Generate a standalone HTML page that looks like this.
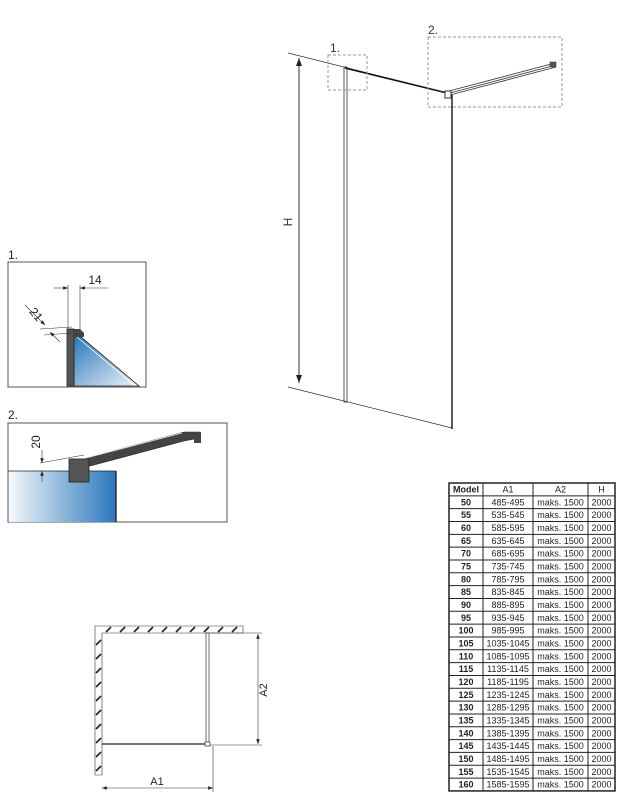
<!DOCTYPE html>
<html><head><meta charset="utf-8"><style>
body{margin:0;background:#fff;width:638px;height:800px;overflow:hidden;font-family:"Liberation Sans",sans-serif}
svg{position:absolute;left:0;top:0}
.t{font-family:"Liberation Sans",sans-serif;font-size:9px;fill:#222;text-anchor:middle}
.b{font-weight:bold}
</style></head><body>
<svg width="638" height="800" viewBox="0 0 638 800">
<defs>
<linearGradient id="g" x1="0" x2="1"><stop offset="0" stop-color="#f4f8fc"/><stop offset="1" stop-color="#2a78bb"/></linearGradient>
<linearGradient id="g1" x1="0" x2="1" y1="0" y2="1"><stop offset="0" stop-color="#2a78bb"/><stop offset="1" stop-color="#eef4fa"/></linearGradient>
<marker id="a" markerWidth="8" markerHeight="6" refX="8" refY="3" orient="auto"><path d="M0,0 L8,3 L0,6z" fill="#222"/></marker>
<marker id="as" markerWidth="8" markerHeight="6" refX="0" refY="3" orient="auto"><path d="M8,0 L0,3 L8,6z" fill="#222"/></marker>
</defs>
<g stroke="#333" fill="none">
<line x1="288" y1="53" x2="447" y2="93" stroke-width="0.8"/>
<line x1="345" y1="68" x2="447" y2="93" stroke-width="1.5" stroke="#111"/>
<line x1="288" y1="387" x2="452" y2="428" stroke-width="0.8"/>
<line x1="299" y1="58" x2="299" y2="383" stroke-width="1" marker-start="url(#as)" marker-end="url(#a)"/>
<rect x="344" y="67" width="3" height="335" stroke-width="0.8"/>
<line x1="452" y1="95" x2="452" y2="429" stroke-width="1.5" stroke="#222"/>
<path d="M449,91 L555,63 M450,95 L556,67 M450,93 L556,65" stroke-width="0.8"/>
<rect x="445" y="91" width="6" height="7" fill="#fff" stroke-width="1"/>
<rect x="550" y="62" width="6" height="5" fill="#555" stroke-width="0.5"/>
<rect x="328" y="55" width="39" height="35" stroke="#999" stroke-dasharray="3,2" stroke-width="1"/>
<rect x="428" y="37" width="134" height="70" stroke="#999" stroke-dasharray="3,2" stroke-width="1"/>
</g>
<text x="330" y="52" style="font-size:12px;fill:#333">1.</text>
<text x="428" y="34" style="font-size:12px;fill:#333">2.</text>
<text transform="translate(292,222) rotate(-90)" style="font-size:12px;fill:#333" text-anchor="middle">H</text>
<text x="8" y="259" style="font-size:12px;fill:#222">1.</text>
<rect x="8" y="262" width="138" height="125" fill="#fff" stroke="#555" stroke-width="1"/>
<polygon points="74,337 81,337 139,386 74,386" fill="url(#g1)" stroke="#222" stroke-width="0.8"/>
<line x1="77" y1="337" x2="135" y2="386" stroke="#fff" stroke-width="0.8"/>
<rect x="67" y="329" width="7" height="57" fill="#555" stroke="#222" stroke-width="0.8"/>
<polygon points="74,329 80,329 84,333 84,337 74,337" fill="#444"/>
<g stroke="#333" stroke-width="0.6" fill="none">
<line x1="68" y1="285" x2="68" y2="330"/><line x1="80" y1="285" x2="80" y2="330"/>
<line x1="54" y1="288" x2="68" y2="288" marker-end="url(#a)"/><line x1="108" y1="288" x2="80" y2="288" marker-end="url(#a)"/>
<line x1="25" y1="305" x2="45" y2="325" marker-end="url(#a)"/><line x1="60" y1="342" x2="50" y2="332" marker-end="url(#a)"/>
<line x1="40" y1="329" x2="72" y2="327"/><line x1="44" y1="335" x2="72" y2="333"/>
</g>
<text x="95" y="284" style="font-size:12px;fill:#222" text-anchor="middle">14</text>
<text transform="translate(33,317) rotate(50)" style="font-size:12px;fill:#222" text-anchor="middle">21</text>
<text x="8" y="419" style="font-size:12px;fill:#222">2.</text>
<rect x="8" y="423" width="219" height="99" fill="#fff" stroke="#555" stroke-width="1"/>
<rect x="9" y="471" width="107" height="51" fill="url(#g)"/>
<line x1="116" y1="471" x2="116" y2="522" stroke="#111" stroke-width="1.2"/>
<line x1="8" y1="471" x2="116" y2="471" stroke="#222" stroke-width="0.8"/>
<polygon points="86,458 184,432 200,432 200,438 184,441 90,466" fill="#444" stroke="#222" stroke-width="0.6"/>
<line x1="86" y1="458" x2="182" y2="433" stroke="#eee" stroke-width="0.8"/>
<rect x="194" y="432" width="7" height="11" fill="#444"/>
<rect x="69" y="459" width="20" height="23" fill="#555" stroke="#222" stroke-width="0.8"/>
<g stroke="#333" stroke-width="0.6">
<line x1="42" y1="450" x2="42" y2="463" marker-end="url(#a)"/>
<line x1="42" y1="482" x2="42" y2="471" marker-end="url(#a)"/>
<line x1="40" y1="463" x2="84" y2="455"/>
</g>
<text transform="translate(40,442) rotate(-90)" style="font-size:12px;fill:#222" text-anchor="middle">20</text>
<g stroke="#333" fill="none">
<path d="M95,775 L95,626 L243,626 L243,633 L102,633 L102,775 Z" stroke-width="0.6"/>
<g stroke="#222" stroke-width="1.6">
<path d="M106,632 l5,-5 M120,632 l5,-5 M134,632 l5,-5 M148,632 l5,-5 M162,632 l5,-5 M176,632 l5,-5 M190,632 l5,-5 M204,632 l5,-5 M218,632 l5,-5 M232,632 l5,-5"/>
<path d="M96,645 l5,-5 M96,659 l5,-5 M96,673 l5,-5 M96,687 l5,-5 M96,701 l5,-5 M96,715 l5,-5 M96,729 l5,-5 M96,743 l5,-5 M96,757 l5,-5 M96,771 l5,-5"/>
</g>
<line x1="102" y1="744" x2="208" y2="744" stroke-width="1.2" stroke="#222"/>
<rect x="206" y="633" width="3" height="111" stroke-width="0.7"/>
<rect x="205" y="742" width="5" height="4" fill="#fff" stroke-width="0.7"/>
<g stroke-width="0.6">
<line x1="210" y1="633" x2="262" y2="633"/><line x1="210" y1="745" x2="262" y2="745"/>
<line x1="258" y1="634" x2="258" y2="744" marker-start="url(#as)" marker-end="url(#a)"/>
<line x1="213" y1="746" x2="213" y2="792"/>
<line x1="102" y1="788" x2="213" y2="788" marker-start="url(#as)" marker-end="url(#a)"/>
</g>
</g>
<text x="157" y="785" style="font-size:11px;fill:#222" text-anchor="middle">A1</text>
<text transform="translate(267,690) rotate(-90)" style="font-size:11px;fill:#222" text-anchor="middle">A2</text>
<g id="tbl"></g>
</svg>
<script>
var rows=[["Model","A1","A2","H"]];
for(var m=50;m<=160;m+=5){rows.push([m,(m*10-15)+"-"+(m*10-5),"maks. 1500","2000"]);}
var g=document.getElementById("tbl"),y0=483,h=12.83,xs=[449,483,533,588,615];
var s="";
s+='<rect x="449" y="483" width="166" height="'+(h*24)+'" fill="#fff" stroke="#222" stroke-width="1.5"/>';
for(var i=1;i<24;i++){s+='<line x1="449" x2="615" y1="'+(y0+i*h)+'" y2="'+(y0+i*h)+'" stroke="#222" stroke-width="1"/>';}
for(var j=1;j<4;j++){s+='<line y1="483" y2="'+(y0+24*h)+'" x1="'+xs[j]+'" x2="'+xs[j]+'" stroke="#222" stroke-width="1"/>';}
for(var i=0;i<24;i++){for(var j=0;j<4;j++){var cx=(xs[j]+xs[j+1])/2;s+='<text class="t'+((j==0)?' b':'')+'" x="'+cx+'" y="'+(y0+i*h+9.5)+'">'+rows[i][j]+'</text>';}}
g.innerHTML=s;
</script>
</body></html>
